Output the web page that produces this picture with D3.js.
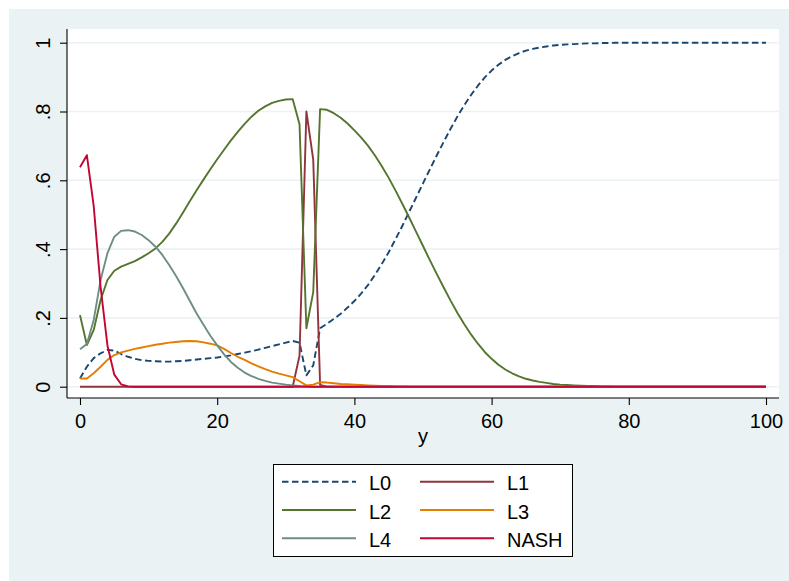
<!DOCTYPE html>
<html>
<head>
<meta charset="utf-8">
<script src="https://cdn.jsdelivr.net/npm/d3@7"></script>
<style>
  body { margin: 0; background: #fff; }
  svg { display: block; font-family: "Liberation Sans", Arial, sans-serif; }
</style>
</head>
<body>
<div id="chart"></div>
<script>
// x variable ("y" in the source), one point per integer step
const yvals = d3.range(0, 101);

const L0 = [
  0.024,0.058,0.083,0.097,0.107,0.105,0.095,0.087,0.081,0.077,
  0.075,0.074,0.073,0.073,0.074,0.075,0.077,0.079,0.081,0.083,
  0.085,0.088,0.091,0.095,0.099,0.103,0.108,0.113,0.118,0.123,
  0.128,0.133,0.128,0.033,0.062,0.170,0.183,0.197,0.212,0.230,
  0.249,0.271,0.296,0.325,0.357,0.391,0.429,0.468,0.509,0.550,
  0.591,0.632,0.672,0.711,0.749,0.785,0.818,0.848,0.875,0.899,
  0.919,0.936,0.950,0.961,0.970,0.977,0.982,0.986,0.989,0.992,
  0.994,0.995,0.996,0.997,0.998,0.998,0.999,0.999,1,1,
  1,1,1,1,1,1,1,1,1,1,
  1,1,1,1,1,1,1,1,1,1,
  1];

const L1 = [
  0,0,0,0,0,0,0,0,0,0,
  0,0,0,0,0,0,0,0,0,0,
  0,0,0,0,0,0,0,0,0,0,
  0,0,0.09,0.80,0.66,0.005,0,0,0,0,
  0,0,0,0,0,0,0,0,0,0,
  0,0,0,0,0,0,0,0,0,0,
  0,0,0,0,0,0,0,0,0,0,
  0,0,0,0,0,0,0,0,0,0,
  0,0,0,0,0,0,0,0,0,0,
  0,0,0,0,0,0,0,0,0,0,
  0];

const L2 = [
  0.208,0.121,0.165,0.252,0.310,0.337,0.349,0.357,0.365,0.376,
  0.388,0.402,0.421,0.445,0.474,0.506,0.539,0.571,0.602,0.632,
  0.661,0.689,0.716,0.741,0.764,0.785,0.802,0.815,0.825,0.831,
  0.835,0.836,0.763,0.170,0.275,0.807,0.805,0.795,0.782,0.765,
  0.745,0.724,0.700,0.672,0.641,0.607,0.570,0.531,0.491,0.450,
  0.409,0.368,0.328,0.289,0.251,0.215,0.182,0.152,0.125,0.101,
  0.081,0.064,0.050,0.039,0.030,0.023,0.018,0.014,0.011,0.008,
  0.006,0.005,0.004,0.003,0.002,0.002,0.001,0.001,0,0,
  0,0,0,0,0,0,0,0,0,0,
  0,0,0,0,0,0,0,0,0,0,
  0];

const L3 = [
  0.024,0.024,0.039,0.058,0.078,0.092,0.100,0.105,0.110,0.114,
  0.118,0.122,0.125,0.128,0.130,0.132,0.133,0.132,0.129,0.125,
  0.120,0.110,0.098,0.087,0.078,0.068,0.059,0.051,0.044,0.038,
  0.033,0.028,0.016,0.004,0.006,0.013,0.012,0.010,0.008,0.007,
  0.006,0.005,0.004,0.003,0.002,0.002,0.001,0.001,0,0,
  0,0,0,0,0,0,0,0,0,0,
  0,0,0,0,0,0,0,0,0,0,
  0,0,0,0,0,0,0,0,0,0,
  0,0,0,0,0,0,0,0,0,0,
  0,0,0,0,0,0,0,0,0,0,
  0];

const L4 = [
  0.109,0.124,0.194,0.310,0.388,0.436,0.453,0.455,0.451,0.441,
  0.426,0.407,0.383,0.354,0.322,0.287,0.250,0.213,0.180,0.148,
  0.120,0.094,0.072,0.055,0.041,0.031,0.023,0.017,0.012,0.009,
  0.006,0.004,0.002,0.001,0,0,0,0,0,0,
  0,0,0,0,0,0,0,0,0,0,
  0,0,0,0,0,0,0,0,0,0,
  0,0,0,0,0,0,0,0,0,0,
  0,0,0,0,0,0,0,0,0,0,
  0,0,0,0,0,0,0,0,0,0,
  0,0,0,0,0,0,0,0,0,0,
  0];

const NASH = [
  0.638,0.673,0.525,0.290,0.120,0.035,0.007,0.001,0,0,
  0,0,0,0,0,0,0,0,0,0,
  0,0,0,0,0,0,0,0,0,0,
  0,0,0,0,0,0,0,0,0,0,
  0,0,0,0,0,0,0,0,0,0,
  0,0,0,0,0,0,0,0,0,0,
  0,0,0,0,0,0,0,0,0,0,
  0,0,0,0,0,0,0,0,0,0,
  0,0,0,0,0,0,0,0,0,0,
  0,0,0,0,0,0,0,0,0,0,
  0];

const xTicks = [0, 20, 40, 60, 80, 100];
const yTicks = [0, 0.2, 0.4, 0.6, 0.8, 1];
const yTickLabels = ["0", ".2", ".4", ".6", ".8", "1"];

// stata s2color-ish styling, drawing order as in the legend
const series = [
  {name: "L0", values: L0, color: "#1a476f", dash: "6.5,3.5"},
  {name: "L1", values: L1, color: "#90353b", dash: null},
  {name: "L2", values: L2, color: "#55752f", dash: null},
  {name: "L3", values: L3, color: "#e37e00", dash: null},
  {name: "L4", values: L4, color: "#6e8e84", dash: null},
  {name: "NASH", values: NASH, color: "#c10534", dash: null}
];

const width = 789, height = 581;
const plot = {left: 67, right: 779, top: 29, bottom: 398};

const svg = d3.select("#chart").append("svg")
  .attr("width", width)
  .attr("height", height);

svg.append("rect") // outer graph region
  .attr("x", 9).attr("y", 9)
  .attr("width", width - 9).attr("height", height - 9)
  .attr("fill", "#eaf2f3");

svg.append("rect") // plot region
  .attr("x", plot.left).attr("y", plot.top)
  .attr("width", plot.right - plot.left).attr("height", plot.bottom - plot.top)
  .attr("fill", "#fff");

const x = d3.scaleLinear().domain([0, 100]).range([80, 766]);
const y = d3.scaleLinear().domain([0, 1]).range([386.7, 42.7]);

// gridlines
svg.append("g")
  .selectAll("line")
  .data(yTicks)
  .enter().append("line")
    .attr("x1", plot.left).attr("x2", plot.right)
    .attr("y1", d => y(d)).attr("y2", d => y(d))
    .attr("stroke", "#eaf2f3")
    .attr("stroke-width", 1.6);

let line = d3.line()
  .x((d, i) => x(yvals[i]))
  .y(d => y(d));

svg.append("g")
  .selectAll("path")
  .data(series)
  .enter().append("path")
    .attr("d", d => line(d.values))
    .attr("fill", "none")
    .attr("stroke", d => d.color)
    .attr("stroke-width", 1.9)
    .attr("stroke-linejoin", "round")
    .attr("stroke-dasharray", d => d.dash);

// y axis, labels rotated like stata
let yAxis = g => g
  .attr("transform", `translate(${plot.left},0)`)
  .call(d3.axisLeft(y).tickValues(yTicks).tickSize(7).tickFormat((d, i) => yTickLabels[i]))
  .call(g => g.select(".domain").attr("d", `M0,${plot.top}V${plot.bottom}`))
  .call(g => g.selectAll(".tick text")
    .attr("x", null).attr("dy", null)
    .attr("text-anchor", "middle")
    .attr("transform", "translate(-17,0) rotate(-90)")
    .attr("fill", "#000"));

let xAxis = g => g
  .attr("transform", `translate(0,${plot.bottom})`)
  .call(d3.axisBottom(x).tickValues(xTicks).tickSize(7).tickFormat(d3.format("d")))
  .call(g => g.select(".domain").attr("d", `M${plot.left},0H${plot.right}`))
  .call(g => g.selectAll(".tick text").attr("y", 30).attr("dy", null).attr("fill", "#000"));

svg.append("g").call(yAxis);
svg.append("g").call(xAxis);

svg.selectAll(".domain, .tick line").attr("stroke", "#000").attr("stroke-width", 1.1);
svg.selectAll(".tick text").attr("font-size", 20).attr("font-family", null);

svg.append("text")
  .attr("x", (x(0) + x(100)) / 2)
  .attr("y", 443)
  .attr("text-anchor", "middle")
  .attr("font-size", 20)
  .text("y");

// legend, two columns
const legend = svg.append("g");
legend.append("rect")
  .attr("x", 273.5).attr("y", 464.5)
  .attr("width", 299).attr("height", 92)
  .attr("fill", "#fff")
  .attr("stroke", "#000")
  .attr("stroke-width", 1);

const item = legend.selectAll("g.item")
  .data(series)
  .enter().append("g")
    .attr("class", "item")
    .attr("transform", (d, i) => `translate(${i % 2 ? 420 : 282},${481.7 + Math.floor(i / 2) * 28.3})`);

item.append("line")
  .attr("x1", 0).attr("x2", 74)
  .attr("stroke", d => d.color)
  .attr("stroke-width", 1.9)
  .attr("stroke-dasharray", d => d.dash);

item.append("text")
  .attr("x", 87)
  .attr("y", 8.5)
  .attr("font-size", 20)
  .text(d => d.name);
</script>
</body>
</html>
